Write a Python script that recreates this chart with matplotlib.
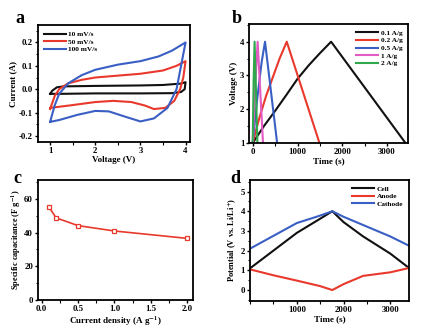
import matplotlib
matplotlib.use('Agg')
import matplotlib.pyplot as plt
from matplotlib.ticker import MultipleLocator

plt.rcParams['font.family'] = ['Liberation Serif', 'DejaVu Serif']
plt.rcParams['font.weight'] = 'bold'
plt.rcParams['axes.labelweight'] = 'bold'
plt.rcParams['mathtext.fontset'] = 'stix'
plt.rcParams['mathtext.default'] = 'bf'

BLACK = '#111111'
RED = '#e8392c'
BLUE = '#3a5fc4'
PINK = '#e45bc2'
GREEN = '#2ea84a'

# panel a: CV curves (voltage, current)
cv10_v = [1.0, 1.05, 1.15, 1.3, 2.0, 3.0, 3.5, 3.9, 4.0, 3.98, 3.9, 3.7, 3.0, 2.0, 1.2, 1.0]
cv10_i = [-0.02, -0.006, 0.008, 0.012, 0.014, 0.016, 0.018, 0.024, 0.03, 0.0, -0.012, -0.017, -0.018, -0.018, -0.02, -0.02]
cv50_v = [1.0, 1.1, 1.2, 1.4, 1.7, 2.0, 2.5, 3.0, 3.5, 3.8, 4.0, 3.95, 3.88, 3.75, 3.55, 3.3, 3.1, 2.8, 2.4, 2.0, 1.5, 1.0]
cv50_i = [-0.085, -0.03, 0.0, 0.025, 0.04, 0.05, 0.058, 0.066, 0.08, 0.1, 0.12, 0.05, 0.0, -0.05, -0.08, -0.085, -0.07, -0.055, -0.05, -0.055, -0.068, -0.08]
cv100_v = [1.0, 1.1, 1.2, 1.4, 1.7, 2.0, 2.5, 3.0, 3.4, 3.7, 4.0, 3.9, 3.8, 3.6, 3.3, 3.0, 2.7, 2.3, 2.0, 1.6, 1.2, 1.0]
cv100_i = [-0.14, -0.07, -0.02, 0.025, 0.06, 0.083, 0.105, 0.12, 0.14, 0.165, 0.2, 0.1, 0.0, -0.08, -0.125, -0.138, -0.12, -0.095, -0.093, -0.11, -0.132, -0.14]
cv_labels = ['10 mV/s', '50 mV/s', '100 mV/s']

# panel b: galvanostatic charge/discharge (time, voltage)
gcd01_t = [0, 250, 500, 750, 1000, 1250, 1500, 1750, 3410]
gcd01_v = [1.0, 1.5, 1.95, 2.42, 2.9, 3.3, 3.66, 4.0, 1.0]
gcd02_t = [0, 150, 300, 450, 600, 760, 1490]
gcd02_v = [1.0, 1.75, 2.4, 2.95, 3.5, 4.0, 1.0]
gcd05_t = [0, 100, 200, 275, 545]
gcd05_v = [1.0, 2.3, 3.4, 4.0, 1.0]
gcd1_t = [0, 60, 110, 230]
gcd1_v = [1.0, 2.8, 4.0, 1.0]
gcd2_t = [0, 20, 42, 105]
gcd2_v = [1.0, 2.8, 4.0, 1.0]
gcd_labels = ['0.1 A/g', '0.2 A/g', '0.5 A/g', '1 A/g', '2 A/g']

# panel c: rate capability
density = [0.1, 0.2, 0.5, 1.0, 2.0]
capacitance = [55.4, 48.8, 44.2, 41.0, 36.6]

# panel d: three-electrode potentials
pot_t = [0, 500, 1000, 1500, 1760, 2000, 2420, 3000, 3400]
cell_v = [1.1, 2.0, 2.9, 3.62, 4.0, 3.45, 2.72, 1.85, 1.12]
anode_v = [1.05, 0.75, 0.48, 0.2, 0.0, 0.3, 0.72, 0.9, 1.12]
cathode_v = [2.1, 2.75, 3.4, 3.78, 4.0, 3.72, 3.3, 2.72, 2.25]
pot_labels = ['Cell', 'Anode', 'Cathode']


def style_axes(ax):
    for s in ax.spines.values():
        s.set_linewidth(1.3)
    ax.tick_params(which='major', direction='out', length=2.5, width=1, labelsize=6.3, pad=1)
    ax.tick_params(which='minor', direction='out', length=1.8, width=0.8)
    for lab in ax.get_xticklabels() + ax.get_yticklabels():
        lab.set_fontweight('bold')


fig = plt.figure(figsize=(4.31, 3.31), dpi=100)
axa = fig.add_axes([0.088, 0.571, 0.353, 0.353])
axb = fig.add_axes([0.578, 0.568, 0.369, 0.360])
axc = fig.add_axes([0.088, 0.094, 0.360, 0.363])
axd = fig.add_axes([0.580, 0.091, 0.369, 0.366])

lw = 1.5
leg_kw = dict(frameon=False, fontsize=5.3, handlelength=3, handletextpad=0.3,
              labelspacing=0.2, borderaxespad=0.4)
# a
axa.plot(cv10_v, cv10_i, color=BLACK, lw=lw, label=cv_labels[0])
axa.plot(cv50_v, cv50_i, color=RED, lw=lw, label=cv_labels[1])
axa.plot(cv100_v, cv100_i, color=BLUE, lw=lw, label=cv_labels[2])
axa.set_xlim(0.73, 4.1)
axa.set_ylim(-0.226, 0.274)
axa.set_xticks([1, 2, 3, 4])
axa.set_yticks([-0.2, -0.1, 0.0, 0.1, 0.2])
axa.set_yticklabels(['-0.2', '-0.1', '0.0', '0.1', '0.2'])
axa.xaxis.set_minor_locator(MultipleLocator(0.5))
axa.yaxis.set_minor_locator(MultipleLocator(0.05))
axa.set_xlabel('Voltage (V)', fontsize=6.5, labelpad=1)
axa.set_ylabel('Current (A)', fontsize=6.5, labelpad=1)
axa.legend(loc='upper left', **leg_kw)

# b
axb.plot(gcd01_t, gcd01_v, color=BLACK, lw=lw, label=gcd_labels[0])
axb.plot(gcd02_t, gcd02_v, color=RED, lw=lw, label=gcd_labels[1])
axb.plot(gcd05_t, gcd05_v, color=BLUE, lw=lw, label=gcd_labels[2])
axb.plot(gcd1_t, gcd1_v, color=PINK, lw=lw, label=gcd_labels[3])
axb.plot(gcd2_t, gcd2_v, color=GREEN, lw=lw, label=gcd_labels[4])
axb.set_xlim(-80, 3470)
axb.set_ylim(1.0, 4.53)
axb.set_xticks([0, 1000, 2000, 3000])
axb.set_yticks([1, 2, 3, 4])
axb.xaxis.set_minor_locator(MultipleLocator(500))
axb.yaxis.set_minor_locator(MultipleLocator(0.5))
axb.set_xlabel('Time (s)', fontsize=6.5, labelpad=1)
axb.set_ylabel('Voltage (V)', fontsize=6.5, labelpad=1)
axb.legend(loc='upper right', **leg_kw)

# c
axc.plot(density, capacitance, color=RED, lw=1.2, marker='s', markersize=3.5,
         markerfacecolor='white', markeredgecolor=RED, markeredgewidth=0.9)
axc.set_xlim(-0.05, 2.08)
axc.set_ylim(0, 71.5)
axc.set_xticks([0.0, 0.5, 1.0, 1.5, 2.0])
axc.set_xticklabels(['0.0', '0.5', '1.0', '1.5', '2.0'])
axc.set_yticks([0, 20, 40, 60])
axc.xaxis.set_minor_locator(MultipleLocator(0.25))
axc.yaxis.set_minor_locator(MultipleLocator(10))
axc.set_xlabel('Current density (A g$^{-1}$)', fontsize=6.5, labelpad=1)
axc.set_ylabel('Specific capacitance (F g$^{-1}$)', fontsize=6, labelpad=1)

# d
axd.plot(pot_t, cell_v, color=BLACK, lw=lw, label=pot_labels[0])
axd.plot(pot_t, anode_v, color=RED, lw=lw, label=pot_labels[1])
axd.plot(pot_t, cathode_v, color=BLUE, lw=lw, label=pot_labels[2])
axd.set_xlim(0, 3400)
axd.set_ylim(-0.55, 5.6)
axd.set_xticks([1000, 2000, 3000])
axd.set_yticks([0, 1, 2, 3, 4, 5])
axd.xaxis.set_minor_locator(MultipleLocator(500))
axd.yaxis.set_minor_locator(MultipleLocator(0.5))
axd.set_xlabel('Time (s)', fontsize=6.5, labelpad=1)
axd.set_ylabel('Potential (V vs. Li/Li$^{+}$)', fontsize=6, labelpad=1)
axd.legend(loc='upper right', **leg_kw)

for ax in (axa, axb, axc, axd):
    style_axes(ax)

fig.text(0.035, 0.945, 'a', fontsize=13, fontweight='bold', va='center')
fig.text(0.538, 0.945, 'b', fontsize=13, fontweight='bold', va='center')
fig.text(0.030, 0.462, 'c', fontsize=13, fontweight='bold', va='center')
fig.text(0.534, 0.462, 'd', fontsize=13, fontweight='bold', va='center')

fig.savefig('out.png', dpi=100)
